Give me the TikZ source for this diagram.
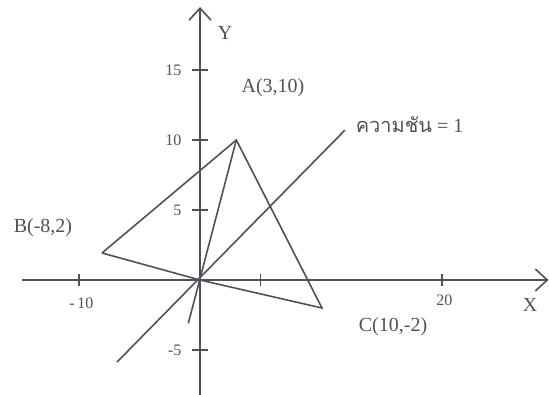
\documentclass[tikz,border=0pt]{standalone}
\usepackage{fontspec}
\setmainfont{Liberation Serif}
\newfontfamily\thaifont[Script=Thai]{Loma}
\usetikzlibrary{arrows.meta}
\definecolor{ink}{RGB}{80,80,92}

\begin{document}
\begin{tikzpicture}[x=6.05pt,y=7pt,line width=0.8pt,
  axis/.style={draw=ink,-{Straight Barb[length=6pt,width=11pt]}},
  seg/.style={draw=ink},
  lbl/.style={font=\fontsize{10}{12}\selectfont,text=ink},
  ticklbl/.style={font=\fontsize{8}{10}\selectfont,text=ink,inner sep=1pt}]
  \useasboundingbox (-16.53,-8.21) rectangle (28.84,20);
  % axes
  \coordinate (O) at (0,0);
  \coordinate (xl) at (-14.7,0);
  \coordinate (xr) at (28.8,0);
  \coordinate (yb) at (0,-8.21);
  \coordinate (yt) at (0,19.5);
  \draw[axis] (xl) -- (xr);
  \draw[axis] (yb) -- (yt);
  \node[lbl] (xname) at (27.27,-1.79) {X};
  \node[lbl] (yname) at (2.07,17.64) {Y};
  % ticks
  \foreach \x in {-10,5,20} \draw[seg] (\x,0) ++(0,-3pt) -- ++(0,6pt);
  \foreach \y in {-5,5,10,15} \draw[seg] (0,\y) ++(-4pt,0) -- ++(8pt,0);
  \node[ticklbl] (xm10) at (-9.8,-1.64) {-\,10};
  \node[ticklbl] (x20) at (20.2,-1.43) {20};
  \foreach \y/\n in {15/c,10/b,5/a,-5/m}
    \node[ticklbl,anchor=east] (ytick\n) at (-1.3,\y) {\y};
  % triangle
  \coordinate (A) at (3,10);
  \coordinate (B) at (-8.1,1.93);
  \coordinate (C) at (10.08,-2);
  \coordinate (D) at (-0.97,-3.1);
  \draw[seg] (B) -- (A) -- (C) -- (O) -- (B);
  \draw[seg] (A) -- (D);
  % slope line
  \coordinate (S1) at (-6.86,-5.86);
  \coordinate (S2) at (11.98,10.71);
  \draw[seg] (S1) -- (S2);
  \node[lbl] (lA) at (6.03,13.71) {A(3,10)};
  \node[lbl] (lB) at (-12.98,3.71) {B(-8,2)};
  \node[lbl] (lC) at (15.95,-3.36) {C(10,-2)};
  \node[lbl,anchor=west,inner sep=0pt] (lS) at (12.81,11.07) {{\thaifont ความชัน} = 1};
\end{tikzpicture}
\end{document}
